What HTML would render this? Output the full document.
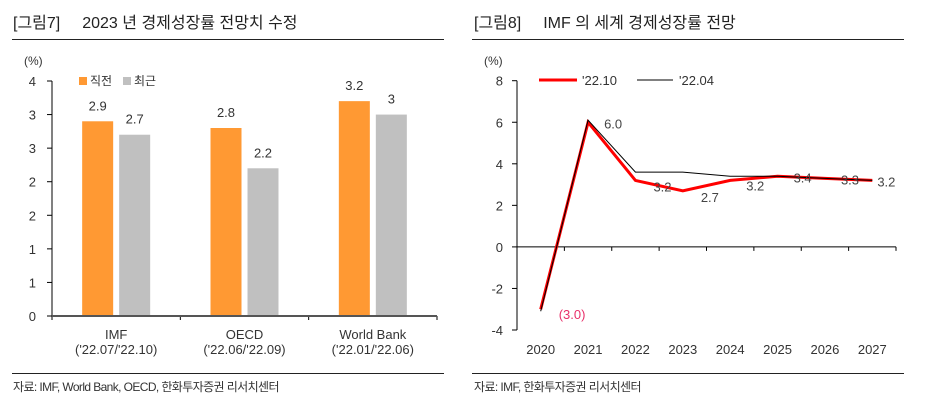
<!DOCTYPE html>
<html><head><meta charset="utf-8"><style>
body{margin:0;background:#fff;width:932px;height:415px;overflow:hidden;font-family:"Liberation Sans","Noto Sans CJK KR",sans-serif;}
svg text{font-family:"Liberation Sans","Noto Sans CJK KR",sans-serif;}
</style></head><body>
<svg width="932" height="415" xmlns="http://www.w3.org/2000/svg">
<g id="left">
<text x="13" y="28" font-size="16" fill="#222">[그림7]<tspan dx="22">2023 년 경제성장률 전망치 수정</tspan></text>
<line x1="12" y1="39.5" x2="444" y2="39.5" stroke="#222"/>
<text x="24" y="65" font-size="12" fill="#333">(%)</text>
<line x1="12" y1="373.5" x2="444" y2="373.5" stroke="#222"/>
<text x="13" y="391" font-size="12" fill="#333" letter-spacing="-0.6">자료: IMF, World Bank, OECD, 한화투자증권 리서치센터</text>
<rect x="79" y="77" width="8" height="8" fill="#ff9933"/>
<text x="90" y="85" font-size="12" fill="#333">직전</text>
<rect x="123" y="77" width="8" height="8" fill="#c0c0c0"/>
<text x="134" y="85" font-size="12" fill="#333">최근</text>
</g>
<g id="right">
<text x="474" y="28" font-size="16" fill="#222">[그림8]<tspan dx="22">IMF 의 세계 경제성장률 전망</tspan></text>
<line x1="472" y1="39.5" x2="904" y2="39.5" stroke="#222"/>
<text x="484" y="65" font-size="12" fill="#333">(%)</text>
<line x1="472" y1="373.5" x2="904" y2="373.5" stroke="#222"/>
<text x="474" y="391" font-size="12" fill="#333" letter-spacing="-0.6">자료: IMF, 한화투자증권 리서치센터</text>
<line x1="539" y1="80" x2="577" y2="80" stroke="#ff0000" stroke-width="3"/>
<text x="582" y="85" font-size="13" fill="#333">'22.10</text>
<line x1="637" y1="80" x2="673" y2="80" stroke="#000" stroke-width="1"/>
<text x="679" y="85" font-size="13" fill="#333">'22.04</text>
</g>
</svg>
<script>
// Bar chart data
const barCategories = ["IMF", "OECD", "World Bank"];
const barSubLabels = ["('22.07/'22.10)", "('22.06/'22.09)", "('22.01/'22.06)"];
const barBefore = [2.9, 2.8, 3.2];
const barRecent = [2.7, 2.2, 3.0];
const barBeforeLabels = ["2.9", "2.8", "3.2"];
const barRecentLabels = ["2.7", "2.2", "3"];
const barTicks = [0, 0.5, 1, 1.5, 2, 2.5, 3, 3.5];
const barTickLabels = ["0", "1", "1", "2", "2", "3", "3", "4"];
// Line chart data
const years = ["2020","2021","2022","2023","2024","2025","2026","2027"];
const seriesOct = [-3.0, 6.0, 3.2, 2.7, 3.2, 3.4, 3.3, 3.2];
const seriesApr = [-3.1, 6.1, 3.6, 3.6, 3.4, 3.4, 3.3, 3.2];
const octLabels = ["(3.0)", "6.0", "3.2", "2.7", "3.2", "3.4", "3.3", "3.2"];
const lineTicks = [-4, -2, 0, 2, 4, 6, 8];

const NS = "http://www.w3.org/2000/svg";
const svg = document.querySelector("svg");
function mk(tag, attrs, parent, txt){const e=document.createElementNS(NS,tag);for(const k in attrs)e.setAttribute(k,attrs[k]);if(txt!==undefined)e.textContent=txt;(parent||svg).appendChild(e);return e;}

// ---- bar chart
const L = document.getElementById("left");
const bx0=52, bx1=437, by0=316, byTop=81, bMax=3.5;
const by = v => by0 - v/bMax*(by0-byTop);
const bandW = (bx1-bx0)/barCategories.length;
const bw=31, gap=6;
barTicks.forEach((t,i)=>{
  const tk=mk("line",{x1:bx0-5,x2:bx0,y1:by(t),y2:by(t),stroke:"#000"},L);
  
  
  const tl=mk("text",{x:36,y:by(t)+5,"font-size":13,fill:"#333","text-anchor":"end"},L,barTickLabels[i]);
  
  
});
barCategories.forEach((c,i)=>{
  const cx=bx0+bandW*(i+0.5);
  const x1=cx-gap/2-bw, x2=cx+gap/2;
  const r1=mk("rect",{x:x1,y:by(barBefore[i]),width:bw,height:by0-by(barBefore[i]),fill:"#ff9933"},L);
  
  
  const r2=mk("rect",{x:x2,y:by(barRecent[i]),width:bw,height:by0-by(barRecent[i]),fill:"#c0c0c0"},L);
  
  
  const v1=mk("text",{x:x1+bw/2,y:by(barBefore[i])-11,"font-size":13,fill:"#333","text-anchor":"middle"},L,barBeforeLabels[i]);
  
  
  const v2=mk("text",{x:x2+bw/2,y:by(barRecent[i])-11,"font-size":13,fill:"#333","text-anchor":"middle"},L,barRecentLabels[i]);
  
  
  const cl=mk("text",{x:cx,y:339,"font-size":13,fill:"#333","text-anchor":"middle"},L,c);
  
  
  const sl=mk("text",{x:cx,y:354,"font-size":13,fill:"#333","text-anchor":"middle"},L,barSubLabels[i]);
  
  
  const tk=mk("line",{x1:bx0+bandW*(i+1),x2:bx0+bandW*(i+1),y1:by0,y2:by0+4,stroke:"#000"},L);
  
  
});
const bya=mk("line",{x1:bx0,x2:bx0,y1:byTop,y2:by0+4,stroke:"#000"},L);


const bxa=mk("line",{x1:bx0,x2:bx1,y1:by0,y2:by0,stroke:"#555","stroke-width":2},L);



// ---- line chart
const R = document.getElementById("right");
const lx0=517, lx1=896, ly0=80.7, ly1=330, lmin=-4, lmax=8;
const ly = v => ly0 + (lmax-v)/(lmax-lmin)*(ly1-ly0);
const step=(lx1-lx0)/years.length;
const lx = i => lx0 + step*(i+0.5);
lineTicks.forEach(t=>{
  const tk=mk("line",{x1:lx0-5,x2:lx0,y1:ly(t),y2:ly(t),stroke:"#000"},R);
  
  
  const tl=mk("text",{x:503,y:ly(t)+5,"font-size":13,fill:"#333","text-anchor":"end"},R,String(t));
  
  
});
years.forEach((y,i)=>{
  const tl=mk("text",{x:lx(i),y:354,"font-size":13,fill:"#333","text-anchor":"middle"},R,y);
  
  
  const tk=mk("line",{x1:lx0+step*(i+1),x2:lx0+step*(i+1),y1:ly(0),y2:ly(0)+4,stroke:"#000"},R);
  
  
});
const lya=mk("line",{x1:lx0,x2:lx0,y1:ly0,y2:ly1,stroke:"#000"},R);


const lxa=mk("line",{x1:lx0,x2:lx1,y1:ly(0),y2:ly(0),stroke:"#000"},R);


const pOct=mk("polyline",{points:seriesOct.map((v,i)=>lx(i)+","+ly(v)).join(" "),fill:"none",stroke:"#ff0000","stroke-width":3},R);


const pApr=mk("polyline",{points:seriesApr.map((v,i)=>lx(i)+","+ly(v)).join(" "),fill:"none",stroke:"#000","stroke-width":1},R);


octLabels.forEach((t,i)=>{
  let x=lx(i)+18, y=ly(seriesOct[i])+11, col="#444", anchor="start";
  if(i===0){x=lx(i)+18;y=ly(seriesOct[i])+10;col="#e8306a";}
  else if(i===1){x=lx(i)+16;y=ly(seriesOct[i])+6;}
  else if(i===7){x=lx(i)+5;y=ly(seriesOct[i])+6;}
  else if(i>=4){x=lx(i)+16;y=ly(seriesOct[i])+ (i===4?10:6);}
  const e=mk("text",{x:x,y:y,"font-size":13,fill:col,"text-anchor":anchor},R,t);
  
  
});
</script>
</body></html>
